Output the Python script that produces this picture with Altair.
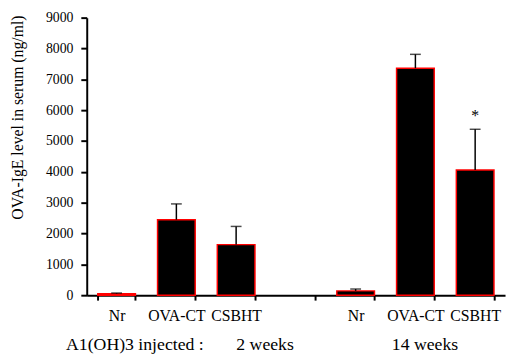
import altair as alt
import pandas as pd

keys = ["2w_Nr", "2w_OVA", "2w_CS", "gap", "14w_Nr", "14w_OVA", "14w_CS"]
labels = ["Nr", "OVA-CT", "CSBHT", "", "Nr", "OVA-CT", "CSBHT"]
means = [50, 2450, 1640, None, 140, 7360, 4060]
errors = [20, 510, 590, None, 60, 450, 1320]
stars = ["", "", "", "", "", "", "*"]

rows = []
for k, l, m, e, s in zip(keys, labels, means, errors, stars):
    if m is None:
        continue
    rows.append({"key": k, "label": l, "mean": m, "top": m + e, "star": s,
                 "starpos": m + e + 420})
df = pd.DataFrame(rows)

label_map = {k: l for k, l in zip(keys, labels)}
label_expr = " : ".join([f"datum.value == '{k}' ? '{l}'" for k, l in label_map.items()]) + " : ''"

FONT = "Liberation Serif"

xscale = alt.Scale(domain=keys, paddingInner=0.37, paddingOuter=0.185)
xaxis = alt.Axis(title=None, labelExpr=label_expr, labelAngle=0,
                 tickBand="extent", tickSize=5, tickWidth=2,
                 tickColor="black", domainColor="black", domainWidth=2,
                 labelFont=FONT, labelFontSize=16, labelColor="black",
                 labelPadding=8)
yscale = alt.Scale(domain=[0, 9000], nice=False)
yaxis = alt.Axis(title="OVA-IgE level in serum (ng/ml)", values=list(range(0, 9001, 1000)),
                 format="d", grid=False, tickSize=6, tickWidth=2, tickColor="black",
                 domainColor="black", domainWidth=2,
                 labelFont=FONT, labelFontSize=14, labelColor="black",
                 labelPadding=8,
                 titleFont=FONT, titleFontSize=16, titleFontWeight="normal",
                 titleColor="black", titleX=-62, titleY=101, titleAnchor="middle")

def X():
    return alt.X("key:N", scale=xscale, sort=keys, axis=xaxis)

def Y(field):
    return alt.Y(f"{field}:Q", scale=yscale, axis=yaxis)

base = alt.Chart(df)

bars = base.mark_bar(color="black", stroke="red", strokeWidth=1.5).encode(x=X(), y=Y("mean"))

err = base.mark_rule(color="black", strokeWidth=1.5).encode(
    x=X(), y=Y("mean"), y2="top:Q")
cap = base.mark_tick(color="black", thickness=1.5, size=11, orient="horizontal").encode(
    x=X(), y=Y("top"))
star = base.mark_text(font=FONT, fontSize=16, color="black", baseline="middle").encode(
    x=X(), y=Y("starpos"), text="star:N")

bottom_texts = ["A1(OH)3  injected :", "2 weeks", "14 weeks"]
bottom_x = [-21, 152, 310]
bottom_layers = [
    alt.Chart(pd.DataFrame({"t": [t]})).mark_text(
        font=FONT, fontSize=18, color="black", align="left", baseline="middle"
    ).encode(x=alt.value(px), y=alt.value(333), text="t:N")
    for t, px in zip(bottom_texts, bottom_x)
]

chart = alt.layer(bars, err, cap, star, *bottom_layers).properties(
    width=425, height=282,
    autosize=alt.AutoSizeParams(type="none"),
    padding={"left": 80, "top": 7, "right": 2, "bottom": 60},
    background="white",
).configure_view(stroke=None).configure_axis(
    labelFont=FONT, titleFont=FONT
).configure_text(font=FONT)

chart.save("out.html", embed_options={"renderer": "svg", "actions": False})
